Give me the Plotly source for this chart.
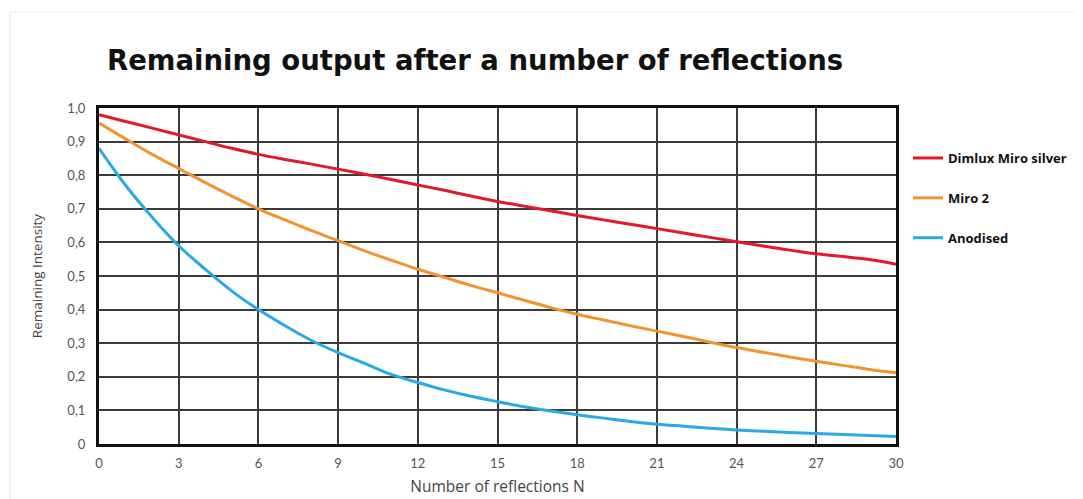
import plotly.graph_objects as go

reflections = [0, 1, 2, 3, 4, 5, 6, 7, 8, 9, 10, 11, 12, 13, 14, 15, 16, 17, 18, 19, 20, 21, 22, 23, 24, 25, 26, 27, 28, 29, 30]

miro_silver = [0.980, 0.960, 0.940, 0.920, 0.900, 0.880, 0.862, 0.847, 0.833, 0.818, 0.803, 0.787, 0.771, 0.755, 0.738, 0.722, 0.708, 0.694, 0.680, 0.667, 0.654, 0.641, 0.628, 0.615, 0.602, 0.589, 0.577, 0.566, 0.558, 0.549, 0.535]
miro2 = [0.955, 0.908, 0.862, 0.820, 0.778, 0.738, 0.700, 0.667, 0.635, 0.605, 0.575, 0.547, 0.520, 0.496, 0.472, 0.450, 0.428, 0.406, 0.386, 0.369, 0.352, 0.336, 0.320, 0.303, 0.287, 0.273, 0.259, 0.246, 0.234, 0.222, 0.212]
anodised = [0.880, 0.770, 0.675, 0.590, 0.520, 0.455, 0.400, 0.352, 0.308, 0.272, 0.240, 0.207, 0.183, 0.161, 0.142, 0.126, 0.111, 0.098, 0.087, 0.077, 0.067, 0.059, 0.053, 0.047, 0.042, 0.038, 0.034, 0.031, 0.028, 0.025, 0.022]

series_names = ["Dimlux Miro silver", "Miro 2", "Anodised"]
series_colors = ["#e3182d", "#f4922f", "#29a9e8"]

x_ticks = [0, 3, 6, 9, 12, 15, 18, 21, 24, 27, 30]
y_ticks = [0, 0.1, 0.2, 0.3, 0.4, 0.5, 0.6, 0.7, 0.8, 0.9, 1.0]
y_tick_labels = ["0", "0,1", "0,2", "0,3", "0,4", "0,5", "0,6", "0,7", "0,8", "0,9", "1,0"]

fig = go.Figure()
for name, vals, col in zip(series_names, [miro_silver, miro2, anodised], series_colors):
    fig.add_trace(go.Scatter(x=reflections, y=vals, mode="lines", name=name,
                             legendgroup=name,
                             line=dict(color=col, width=3, shape="spline")))

axis_font = dict(family="Lato, Open Sans, sans-serif", size=13, color="#555555")

W, H = 1075, 491
L, R, T, B = 91, 187, 100, 55
PW, PH = W - L - R, H - T - B

fig.update_layout(
    width=W, height=H,
    paper_bgcolor="white", plot_bgcolor="white",
    margin=dict(l=L, r=R, t=T, b=B, pad=0, autoexpand=False),
    title=dict(text="<b>Remaining output after a number of reflections</b>",
               x=99/W, xanchor="left", y=1-52/H, yanchor="middle",
               font=dict(family="DejaVu Sans, sans-serif", size=27.5, color="#111111")),
    showlegend=True,
    legend=dict(x=1+12/PW, xanchor="left", y=1-35/PH, yanchor="top",
                font=dict(family="Open Sans, sans-serif", size=13, color="#111111", weight="bold"),
                tracegroupgap=20, itemwidth=30, bgcolor="rgba(0,0,0,0)"),
    xaxis=dict(range=[0, 30], tickvals=x_ticks, ticktext=[str(v) for v in x_ticks],
               showgrid=True, gridcolor="#3a3a3a", gridwidth=2,
               showline=True, linecolor="#111111", linewidth=3, mirror=True,
               zeroline=False, ticks="", tickfont=axis_font, ticklabelstandoff=5,
               title=dict(text="Number of reflections N", font=dict(family="Open Sans, sans-serif", size=15.5, color="#444444"), standoff=12)),
    yaxis=dict(range=[0, 1.0], tickvals=y_ticks, ticktext=y_tick_labels,
               showgrid=True, gridcolor="#3a3a3a", gridwidth=2,
               showline=True, linecolor="#111111", linewidth=3, mirror=True,
               zeroline=False, ticks="", tickfont=axis_font, ticklabelstandoff=8,
               title=dict(text="Remaining Intensity", font=dict(family="Open Sans, sans-serif", size=13.5, color="#444444"), standoff=22)),
)

# faint outer frame lines of the original picture
fig.add_shape(type="line", xref="paper", yref="paper", x0=(2 - L) / PW, x1=(2 - L) / PW,
              y0=-B / PH, y1=1 + (T - 4) / PH, line=dict(color="#e6e6e6", width=1))
fig.add_shape(type="line", xref="paper", yref="paper", x0=(2 - L) / PW, x1=1 + R / PW,
              y0=1 + (T - 4) / PH, y1=1 + (T - 4) / PH, line=dict(color="#eeeeee", width=1))

fig.write_html("out.html")
